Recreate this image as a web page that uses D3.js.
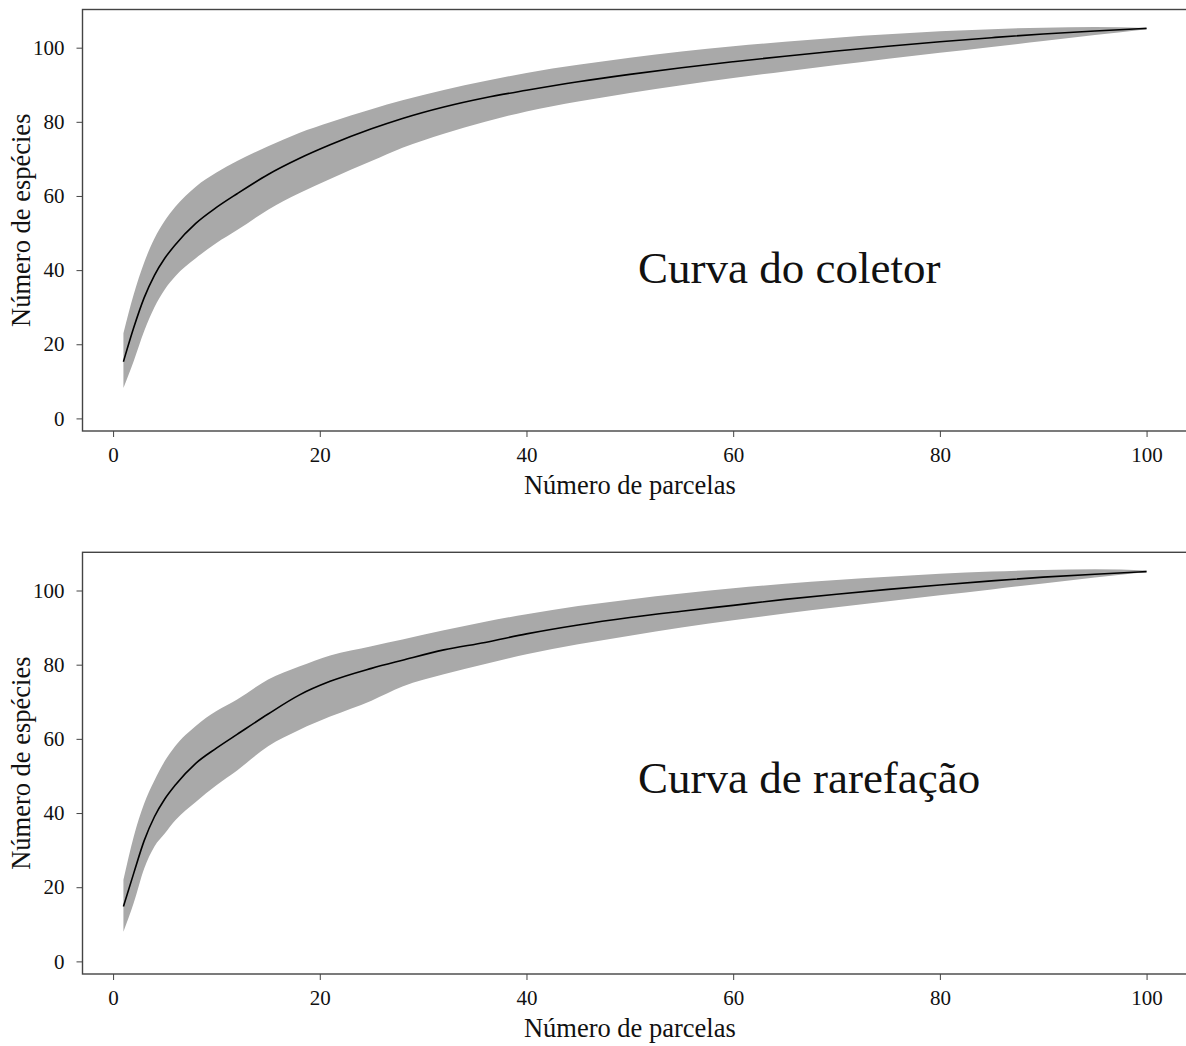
<!DOCTYPE html>
<html><head><meta charset="utf-8">
<script src="https://cdn.jsdelivr.net/npm/d3@7"></script>
<style>
html,body{margin:0;padding:0;background:#fff;}
svg{display:block;}
text{font-family:"Liberation Serif","Times New Roman",serif;fill:#111;}
</style></head>
<body>
<svg id="c" width="1186" height="1046"></svg>
<script>
// Sample positions (número de parcelas)
const parcelas = [1,2,3,4,5,6,8,10,12,15,18,21,25,28,32,36,40,45,50,55,60,65,70,75,80,85,90,95,100];

// Panel 1: Curva do coletor
const coletorMedia = [15.3,24.5,32.5,38.6,43.2,46.8,52.6,56.9,60.6,65.8,70.1,73.8,78.1,80.9,84,86.5,88.5,90.8,92.8,94.6,96.2,97.7,99.1,100.4,101.6,102.7,103.7,104.5,105.2];
const coletorSup   = [23,33.5,42,48.5,53.3,57,62.5,66.3,69.4,73.4,77,79.9,83.4,85.8,88.6,91,93.2,95.4,97.3,99,100.4,101.6,102.7,103.6,104.4,105,105.4,105.6,105.3];
const coletorInf   = [8.2,15.5,23.5,30,34.8,38.3,43.2,47.3,50.8,56.3,60.7,64.6,69.4,73,76.8,80,82.8,85.5,87.8,89.9,91.8,93.6,95.3,97,98.6,100.2,101.8,103.4,105];

// Panel 2: Curva de rarefação
const rarefMedia = [14.8,23.8,32.5,39,43.8,47.5,53.4,57.5,61.2,66.7,71.8,75.5,79,81.2,84,86,88.3,90.7,92.7,94.4,96,97.6,99,100.3,101.5,102.6,103.6,104.4,105.1];
const rarefSup   = [22,33.7,42.5,48.8,54,58,63.5,67.5,70.6,76,79.5,82.5,85,86.8,89.3,91.6,93.6,95.8,97.6,99.2,100.6,101.8,102.8,103.7,104.5,105.1,105.5,105.7,105.4];
const rarefInf   = [8,15.8,25,31,34.5,38,43,47.5,51.5,58,62.4,66,70.3,74.1,77.4,80.2,82.8,85.5,87.8,90,92,93.8,95.5,97.1,98.7,100.3,101.9,103.5,105];

// Tick labels
const xTicks = [0,20,40,60,80,100];
const yTicks = [0,20,40,60,80,100];
const xTitle = "Número de parcelas";
const yTitle = "Número de espécies";

const panels = [
  {label:"Curva do coletor", media:coletorMedia, sup:coletorSup, inf:coletorInf, top:9.5, bottom:431, labelY:283},
  {label:"Curva de rarefação", media:rarefMedia, sup:rarefSup, inf:rarefInf, top:552.3, bottom:974, labelY:793}
];

const svg = d3.select("#c");
const left = 82.5, right = 1187.5;
const axisColor = "#444";

panels.forEach(p => {
  const x = d3.scaleLinear().domain([-2.96, 103.96]).range([left, right]);
  const y = d3.scaleLinear().domain([-3.4, 110.3]).range([p.bottom, p.top]);
  const g = svg.append("g");

  const data = parcelas.map((d,i) => ({x:d, m:p.media[i], s:p.sup[i], n:p.inf[i]}));

  g.append("path").datum(data)
    .attr("d", d3.area().x(d=>x(d.x)).y0(d=>y(d.n)).y1(d=>y(d.s)).curve(d3.curveMonotoneX))
    .attr("fill", "#a9a9a9");

  g.append("path").datum(data)
    .attr("d", d3.line().x(d=>x(d.x)).y(d=>y(d.m)).curve(d3.curveMonotoneX))
    .attr("fill", "none").attr("stroke", "#000").attr("stroke-width", 1.6);

  // box
  g.append("rect").attr("x", left).attr("y", p.top)
    .attr("width", right-left).attr("height", p.bottom-p.top)
    .attr("fill", "none").attr("stroke", axisColor).attr("stroke-width", 1.4);

  // axes
  const xa = d3.axisBottom(x).tickValues(xTicks).tickSize(6).tickPadding(10);
  const gx = g.append("g").attr("transform", `translate(0,${p.bottom})`).call(xa);
  gx.select(".domain").remove();
  gx.selectAll("line").attr("stroke", axisColor);
  gx.selectAll("text").style("font-size","21px").style("font-family","Liberation Serif").attr("fill","#111");

  const ya = d3.axisLeft(y).tickValues(yTicks).tickSize(6).tickPadding(12);
  const gy = g.append("g").attr("transform", `translate(${left},0)`).call(ya);
  gy.select(".domain").remove();
  gy.selectAll("line").attr("stroke", axisColor);
  gy.selectAll("text").style("font-size","21px").style("font-family","Liberation Serif").attr("fill","#111");

  g.append("text").attr("x", x(50)).attr("y", p.bottom + 63)
    .attr("text-anchor","middle").style("font-size","26.5px").text(xTitle);

  g.append("text").attr("transform", `translate(30,${(p.top+p.bottom)/2}) rotate(-90)`)
    .attr("text-anchor","middle").style("font-size","26.5px").text(yTitle);

  g.append("text").attr("x", 638).attr("y", p.labelY)
    .style("font-size","45px").text(p.label);
});
</script>
</body></html>
